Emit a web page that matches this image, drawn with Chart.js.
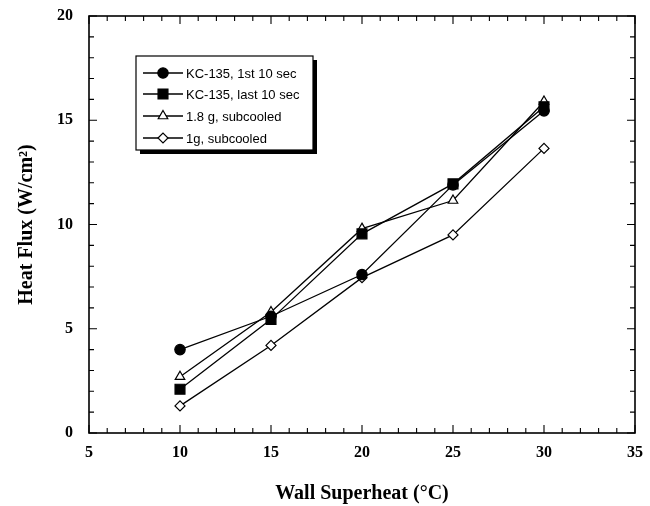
<!DOCTYPE html>
<html>
<head>
<meta charset="utf-8">
<script src="https://cdn.jsdelivr.net/npm/chart.js@4/dist/chart.umd.min.js"></script>
<style>
html,body{margin:0;padding:0;background:#fff;}
#wrap{width:650px;height:506px;}
</style>
</head>
<body>
<div id="wrap"><canvas id="c" width="650" height="506"></canvas></div>
<script>
// ---- data ----
const xValues = [10, 15, 20, 25, 30];
const kc135First = [4.0, 5.6, 7.6, 11.9, 15.45];
const kc135Last = [2.1, 5.45, 9.55, 11.95, 15.65];
const g18Sub = [2.7, 5.8, 9.8, 11.15, 15.9];
const g1Sub = [1.3, 4.2, 7.45, 9.5, 13.65];
const seriesNames = ['KC-135, 1st 10 sec', 'KC-135, last 10 sec', '1.8 g, subcooled', '1g, subcooled'];
const xTicks = [5, 10, 15, 20, 25, 30, 35];
const yTicks = [0, 5, 10, 15, 20];
const xTitle = 'Wall Superheat (°C)';
const yTitle = 'Heat Flux (W/cm²)';

function pts(ys){ return xValues.map((x,i)=>({x:x,y:ys[i]})); }

const serif = "'Liberation Serif','Times New Roman',serif";
const sans = "'Liberation Sans',Arial,sans-serif";

const datasets = [
  {label: seriesNames[0], data: pts(kc135First), pointStyle:'circle', pointRadius:5.2, backgroundColor:'#000', borderColor:'#000'},
  {label: seriesNames[1], data: pts(kc135Last), pointStyle:'rect', pointRadius:7, backgroundColor:'#000', borderColor:'#000'},
  {label: seriesNames[2], data: pts(g18Sub), pointStyle:'triangle', pointRadius:5.5, backgroundColor:'#fff', borderColor:'#000'},
  {label: seriesNames[3], data: pts(g1Sub), pointStyle:'rectRot', pointRadius:5, backgroundColor:'#fff', borderColor:'#000'}
].map(d => Object.assign({showLine:true, borderWidth:1.3, pointBorderWidth:1.2, pointBackgroundColor:d.backgroundColor, pointBorderColor:'#000', fill:false, tension:0}, d));

const framePlugin = {
  id: 'frame',
  afterDraw(chart){
    const ctx = chart.ctx;
    const xs = chart.scales.x, ys = chart.scales.y;
    const L = xs.left, R = xs.right, T = ys.top, B = ys.bottom;
    ctx.save();
    ctx.strokeStyle = '#000';
    ctx.lineWidth = 1.6;
    ctx.strokeRect(L, T, R - L, B - T);
    ctx.lineWidth = 1.1;
    ctx.beginPath();
    for (let v = xs.min; v <= xs.max; v += 1) {
      const px = xs.getPixelForValue(v);
      const len = (v % 5 === 0) ? 8 : 5;
      ctx.moveTo(px, B); ctx.lineTo(px, B - len);
      ctx.moveTo(px, T); ctx.lineTo(px, T + len);
    }
    for (let v = ys.min; v <= ys.max; v += 1) {
      const py = ys.getPixelForValue(v);
      const len = (v % 5 === 0) ? 8 : 5;
      ctx.moveTo(L, py); ctx.lineTo(L + len, py);
      ctx.moveTo(R, py); ctx.lineTo(R - len, py);
    }
    ctx.stroke();

    // legend box
    const bx = 136, by = 56, bw = 177, bh = 94;
    ctx.fillStyle = '#000';
    ctx.fillRect(bx + 4, by + 4, bw, bh);
    ctx.fillStyle = '#fff';
    ctx.fillRect(bx, by, bw, bh);
    ctx.lineWidth = 1.2;
    ctx.strokeStyle = '#000';
    ctx.strokeRect(bx, by, bw, bh);
    const rows = [73, 94, 116, 138];
    ctx.font = '13px ' + sans;
    ctx.textBaseline = 'middle';
    ctx.textAlign = 'left';
    chart.data.datasets.forEach((ds, i) => {
      const y = rows[i];
      ctx.beginPath();
      ctx.lineWidth = 1.3;
      ctx.strokeStyle = '#000';
      ctx.moveTo(143, y); ctx.lineTo(183, y);
      ctx.stroke();
      ctx.save();
      ctx.fillStyle = ds.pointBackgroundColor;
      ctx.strokeStyle = '#000';
      ctx.lineWidth = 1.2;
      Chart.helpers.drawPoint(ctx, {pointStyle: ds.pointStyle, radius: ds.pointRadius, rotation: 0, borderWidth: 1.2}, 163, y);
      ctx.restore();
      ctx.fillStyle = '#000';
      ctx.fillText(ds.label, 186, y + 1);
    });
    ctx.restore();
  }
};

new Chart(document.getElementById('c'), {
  type: 'scatter',
  data: {datasets: datasets},
  options: {
    responsive: false,
    animation: false,
    layout: {padding: {top: 16, right: 15, left: 0, bottom: 0}},
    plugins: {legend: {display: false}, tooltip: {enabled: false}},
    scales: {
      x: {
        type: 'linear', min: 5, max: 35,
        afterBuildTicks(s){ s.ticks = xTicks.map(v => ({value: v})); },
        afterFit(s){ s.height = 73; s.paddingLeft = 0; s.paddingRight = 0; },
        grid: {display: false, drawTicks: false},
        border: {display: false},
        ticks: {color: '#000', padding: 10, font: {family: serif, size: 16, weight: 'bold'}},
        title: {display: true, text: xTitle, color: '#000', padding: {top: 0, bottom: 0}, font: {family: serif, size: 20, weight: 'bold'}}
      },
      y: {
        type: 'linear', min: 0, max: 20,
        afterBuildTicks(s){ s.ticks = yTicks.map(v => ({value: v})); },
        afterFit(s){ s.width = 89; s.paddingTop = 0; s.paddingBottom = 0; },
        grid: {display: false, drawTicks: false},
        border: {display: false},
        ticks: {color: '#000', padding: 16, font: {family: serif, size: 16, weight: 'bold'}},
        title: {display: true, text: yTitle, color: '#000', padding: {top: 15, bottom: 0}, font: {family: serif, size: 20, weight: 'bold'}}
      }
    }
  },
  plugins: [framePlugin]
});
</script>
</body>
</html>
